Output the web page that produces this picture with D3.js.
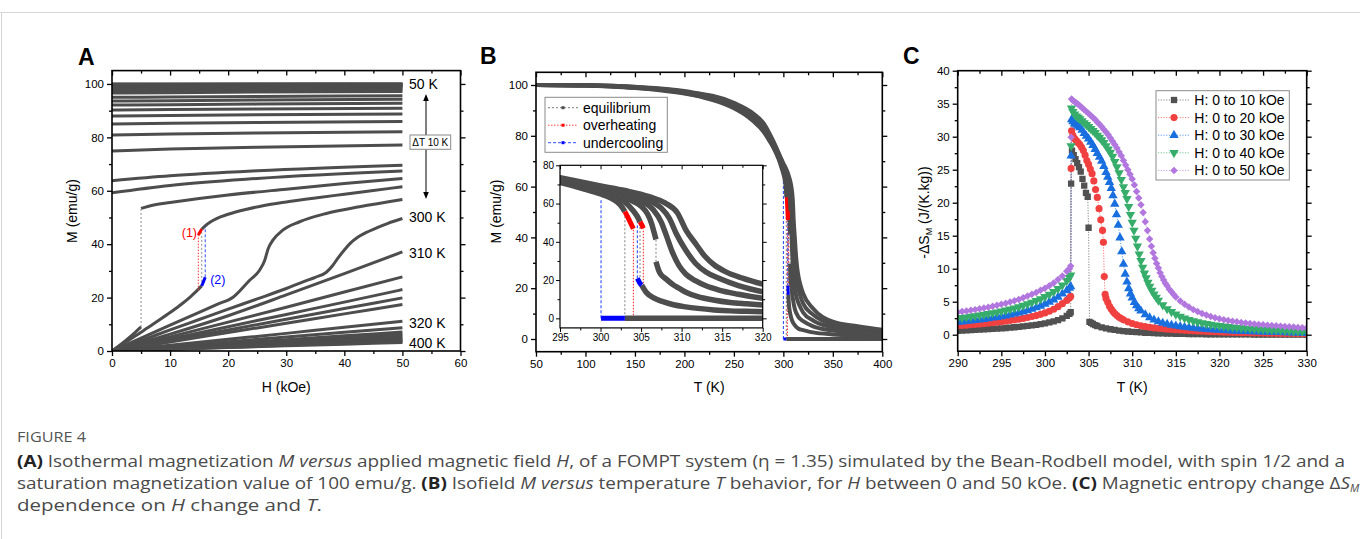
<!DOCTYPE html>
<html><head><meta charset="utf-8">
<script src="https://cdn.jsdelivr.net/npm/d3@7"></script>
<style>
html,body{margin:0;padding:0;background:#fff;}
svg{display:block;font-family:"Liberation Sans",Arial,Helvetica,sans-serif;}
</style></head><body>
<svg id="fig" width="1360" height="539"></svg>
<script>
// ---------------- Panel A data: isotherms M(H) ----------------
const hFlat = [0, 10, 25, 50];
const isoFlat = [
  [100.0, 100.0, 100.0, 100.0],
  [99.9, 99.92, 99.95, 100.0],
  [99.75, 99.78, 99.82, 99.9],
  [99.55, 99.6, 99.66, 99.75],
  [99.3, 99.35, 99.42, 99.55],
  [99.0, 99.06, 99.15, 99.3],
  [98.65, 98.72, 98.83, 99.0],
  [98.25, 98.33, 98.45, 98.65],
  [97.75, 97.85, 98.0, 98.2],
  [97.2, 97.32, 97.5, 97.75],
  [96.6, 96.75, 96.95, 97.2],
  [95.0, 95.12, 95.3, 95.6],
  [93.6, 93.75, 93.95, 94.25],
  [92.1, 92.25, 92.45, 92.75],
  [90.25, 90.4, 90.6, 90.9],
  [88.0, 88.2, 88.45, 88.75],
  [85.0, 85.25, 85.55, 85.9],
  [80.9, 81.25, 81.6, 82.1],
  [74.9, 75.6, 76.3, 77.1],
  [63.75, 65.6, 67.5, 69.6],
  [59.25, 62.0, 64.6, 67.4]
];
const hLin = [0, 10, 20, 30, 40, 50];
const isoLin = [
  [0, 6.3, 13.2, 21.0, 29.0, 37.1],
  [0, 5.3, 10.8, 16.4, 22.1, 27.75],
  [0, 4.5, 9.1, 13.7, 18.3, 23.0],
  [0, 3.9, 7.9, 11.9, 15.9, 19.9],
  [0, 3.4, 6.9, 10.4, 13.9, 17.4],
  [0, 2.2, 4.4, 6.6, 8.9, 11.1],
  [0, 1.75, 3.5, 5.25, 7.0, 8.75],
  [0, 1.42, 2.84, 4.26, 5.68, 7.1],
  [0, 1.25, 2.5, 3.75, 5.0, 6.25],
  [0, 1.12, 2.24, 3.36, 4.48, 5.6],
  [0, 1.0, 2.0, 3.0, 4.0, 5.0],
  [0, 0.9, 1.8, 2.7, 3.6, 4.5],
  [0, 0.8, 1.6, 2.4, 3.2, 4.0],
  [0, 0.72, 1.44, 2.16, 2.88, 3.6],
  [0, 0.64, 1.28, 1.92, 2.56, 3.2]
];
const iso5Low = [[0,0],[1,1.6],[2,3.3],[3,5.1],[4,7.0],[5,9.0]];
const iso5High = [[5,53.4],[7,54.6],[10,55.6],[15,57.1],[20,58.4],[30,60.6],[40,62.7],[50,64.6]];
const iso15Low = [[0,0],[2,2.8],[4,5.6],[6,8.5],[8,11.4],[10,14.4],[12,17.6],[13.5,20.3],[14.5,22.3],[15.45,24.4]];
const iso15High = [[15.45,45.6],[16,46.8],[17,48.4],[18,49.6],[20,51.2],[23,53],[26,54.4],[30,55.8],[35,57.3],[40,58.7],[45,60.1],[50,61.5]];
const iso15Over = [[14.86,43.4],[15.15,44.6],[15.45,45.6]];
const iso15Under = [[15.45,24.4],[15.75,26.0],[16.05,27.6]];
const isoS1 = [[0,0],[5,4.8],[10,9.7],[15,14.5],[18,17.4],[20.9,20.25],[23.7,26.5],[25.4,30.25],[26.3,34],[26.9,38.4],[27.7,41.5],[29.4,45.25],[32.3,48.4],[36.9,51.5],[42.6,54],[50,56.75]];
const isoS2 = [[0,0],[5,3.9],[10,7.9],[15,11.8],[20,15.7],[25,19.5],[30,23.4],[33,26.0],[35,27.6],[36.9,29.5],[38,32],[38.8,34.5],[40,37.8],[41,40.3],[42.3,42.6],[43.7,44.3],[45.5,46.0],[47.5,47.8],[50,49.6]];
// vertical jumps: [H, Mfrom, Mto, kind]
const jumpsA = [[5.0, 9.0, 53.4, 'eq'], [14.86, 22.8, 43.4, 'over'], [15.45, 24.4, 45.6, 'eq'], [16.05, 27.6, 46.6, 'under']];
const labelsA = [['50 K', 100], ['300 K', 50.2], ['310 K', 36.7], ['320 K', 10.6], ['400 K', 3.1]];

// ---------------- Panel B data: isofield M(T) ----------------
const mB0Up = [[50,100],[75,99.95],[100,99.8],[125,99.4],[150,98.8],[175,97.9],[200,96.6],[220,95.0],[240,92.6],[250,90.9],[260,88.6],[270,85.6],[280,81.6],[285,78.6],[290,75.3],[295,71.0],[298,67.6],[300,65.0],[301,63.4],[302,61.0],[302.5,59.0],[303,55.8]];
const mB0Low = [[303,0],[320,0],[350,0],[400,0]];
const mB10Up = [[50,100],[100,99.82],[150,98.9],[200,96.8],[250,91.3],[270,86.2],[280,82.2],[290,75.8],[295,71.5],[300,66.1],[302,63.3],[303,60.8],[304,56.4],[304.5,53.5],[304.87,50.5]];
const mB10Low = [[305.07,17.4],[305.7,13.3],[306.5,10.8],[307.7,8.7],[309,7.1],[310.5,6.0],[312,5.2],[314,4.4],[316,3.9],[318,3.7],[320,3.5],[330,2.6],[350,1.8],[375,1.3],[400,1.0]];
const mB20Up = [[50,100],[100,99.84],[150,99.0],[200,97.0],[250,91.7],[270,86.9],[280,82.9],[290,76.3],[295,72.0],[300,67.0],[302,64.6],[304,61.2],[305,58.6],[305.8,54.5],[306.3,49.5],[306.6,45.0],[306.84,41.2]];
const mB20Low = [[306.84,29.6],[307.3,23.8],[308.1,20.5],[309,17.4],[309.7,15.7],[310.6,13.5],[312,11.3],[313.9,9.6],[316,8.3],[318,7.6],[320,7.0],[330,5.0],[350,3.3],[375,2.4],[400,1.9]];
const mB30 = [[50,100],[100,99.86],[150,99.1],[200,97.2],[250,92.1],[270,87.5],[280,83.6],[290,76.8],[295,72.5],[300,67.8],[303,64.6],[305,61.4],[306.5,56.8],[307.5,50.2],[308.1,43.5],[308.9,34.2],[309.7,27.4],[310.5,23.2],[311.7,19.7],[313,17.0],[314.6,14.8],[317,12.6],[320,10.45],[330,7.3],[350,4.6],[375,3.4],[400,2.7]];
const mB40 = [[50,100],[100,99.88],[150,99.2],[200,97.4],[250,92.5],[270,88.1],[280,84.3],[290,77.3],[295,73.0],[300,68.6],[303,65.8],[305,63.4],[306.5,60.6],[307.5,57.6],[308.5,52.2],[309.3,44.6],[310.5,35.7],[311.7,28.8],[313,24.2],[314.6,20.9],[317,17.1],[320,13.9],[330,9.6],[350,5.7],[375,4.2],[400,3.3]];
const mB50 = [[50,100],[100,99.9],[150,99.3],[200,97.6],[250,93.0],[270,88.7],[280,85.0],[290,77.8],[295,73.5],[300,69.2],[303,66.8],[306,63.6],[308,60.2],[309.5,55.0],[310.5,46.4],[311.7,39.2],[312.9,32.3],[314,28.0],[315.4,24.4],[317.5,21.0],[320,17.9],[330,12.0],[350,6.8],[375,5.0],[400,3.6]];
const bOver0 = [[303,55.8],[303.3,53.4],[303.6,50.8],[303.85,48.6],[304.05,46.8]];
const bUnder0 = [[300.06,0],[301,0],[302,0],[303,0]];
const bOver10 = [[304.87,50.5],[305.0,49.5],[305.15,48.3],[305.28,47.0]];
const bUnder10 = [[304.54,20.9],[304.7,19.6],[304.87,18.3],[305.07,17.4]];
// vertical jumps: [T, Mfrom, Mto, kind]
const jumpsB = [[303.0,0,55.8,'eq'],[304.87,17.4,50.5,'eq'],[306.84,29.6,41.2,'eq'],[304.05,0,46.8,'over'],[305.28,18.3,47.0,'over'],[300.06,0,62.6,'under'],[304.54,20.9,51.0,'under']];
const legendB = ['equilibrium', 'overheating', 'undercooling'];

// ---------------- Panel C data: -ΔS_M(T) ----------------
const sC10 = [[290,0.6],[290.5,0.63],[291,0.66],[291.5,0.69],[292,0.72],[292.5,0.76],[293,0.8],[293.5,0.84],[294,0.88],[294.5,0.92],[295,0.97],[295.5,1.02],[296,1.07],[296.5,1.13],[297,1.19],[297.5,1.26],[298,1.33],[298.5,1.41],[299,1.5],[299.5,1.6],[300,1.72],[300.5,1.86],[301,2.02],[301.5,2.22],[302,2.48],[302.5,2.85],[302.8,3.15],[302.95,3.4],
  [303,22.9],[303.1,27.9],[303.3,27.2],[303.5,26.6],[303.7,26.0],[303.9,25.4],[304.1,24.7],[304.3,23.6],[304.5,22.6],[304.7,21.5],[304.9,20.9],[305,16.2],[305.1,1.95],[305.3,1.78],[305.5,1.62],[305.75,1.45],[306,1.32],[306.5,1.12],[307,0.96],[307.5,0.83],[308,0.72],[308.5,0.63],[309,0.55],[309.5,0.49],[310,0.43],[310.5,0.38],[311,0.34],[311.5,0.3],[312,0.27],[312.5,0.24],[313,0.22],[313.5,0.2],[314,0.18],[314.5,0.16],[315,0.14],[315.5,0.13],[316,0.12],[316.5,0.11],[317,0.1],[317.5,0.09],[318,0.08],[318.5,0.07],[319,0.07],[319.5,0.06],[320,0.06],[320.5,0.05],[321,0.05],[321.5,0.05],[322,0.04],[322.5,0.04],[323,0.04],[323.5,0.04],[324,0.03],[324.5,0.03],[325,0.03],[325.5,0.03],[326,0.03],[326.5,0.02],[327,0.02],[327.5,0.02],[328,0.02],[328.5,0.02],[329,0.02],[329.5,0.02],[330,0.02]];
const sC20 = [[290,1.35],[290.5,1.4],[291,1.45],[291.5,1.5],[292,1.55],[292.5,1.61],[293,1.68],[293.5,1.75],[294,1.82],[294.5,1.9],[295,1.98],[295.5,2.06],[296,2.15],[296.5,2.25],[297,2.35],[297.5,2.47],[298,2.6],[298.5,2.75],[299,2.9],[299.5,3.08],[300,3.3],[300.5,3.55],[301,3.85],[301.5,4.25],[302,4.7],[302.5,5.2],[302.8,5.55],[302.95,5.8],
  [303,25.2],[303.05,30.9],[303.2,30.2],[303.4,29.7],[303.6,29.4],[303.8,29.1],[304,28.8],[304.2,28.4],[304.4,27.9],[304.6,27.2],[304.8,26.4],[305,25.8],[305.2,25.1],[305.4,24.4],[305.6,23.3],[305.8,22.0],[306,20.8],[306.2,19.1],[306.4,17.4],[306.6,15.8],[306.7,14.0],[306.8,8.8],[306.9,6.1],[307,5.5],[307.2,4.9],[307.4,4.3],[307.6,3.9],[307.8,3.5],[308,3.2],[308.25,2.9],[308.5,2.65],[308.75,2.45],[309,2.25],[309.5,1.95],[310,1.7],[310.5,1.5],[311,1.35],[311.5,1.22],[312,1.12],[312.5,1.03],[313,0.96],[313.5,0.9],[314,0.84],[314.5,0.79],[315,0.74],[315.5,0.7],[316,0.66],[316.5,0.62],[317,0.58],[317.5,0.55],[318,0.52],[318.5,0.49],[319,0.46],[319.5,0.44],[320,0.41],[320.5,0.39],[321,0.37],[321.5,0.35],[322,0.33],[322.5,0.31],[323,0.3],[323.5,0.28],[324,0.27],[324.5,0.25],[325,0.24],[325.5,0.23],[326,0.22],[326.5,0.21],[327,0.2],[327.5,0.19],[328,0.18],[328.5,0.17],[329,0.16],[329.5,0.15],[330,0.14]];
const sC30 = [[290,1.9],[290.5,1.97],[291,2.05],[291.5,2.12],[292,2.2],[292.5,2.27],[293,2.35],[293.5,2.45],[294,2.55],[294.5,2.65],[295,2.75],[295.5,2.87],[296,3.0],[296.5,3.15],[297,3.3],[297.5,3.47],[298,3.65],[298.5,3.87],[299,4.1],[299.5,4.36],[300,4.65],[300.5,4.95],[301,5.3],[301.5,5.72],[302,6.2],[302.5,6.7],[302.8,7.05],[302.95,7.3],
  [303,27.1],[303.05,32.6],[303.2,32.3],[303.4,32.0],[303.6,31.8],[303.8,31.6],[304,31.4],[304.25,31.0],[304.5,30.5],[304.75,30.1],[305,29.7],[305.25,29.2],[305.5,28.7],[305.75,28.1],[306,27.5],[306.25,26.9],[306.5,26.3],[306.75,25.5],[307,24.6],[307.2,23.9],[307.4,23.1],[307.6,22.2],[307.8,21.1],[308,19.8],[308.2,18.2],[308.4,16.6],[308.6,14.7],[308.8,12.6],[309,10.7],[309.2,9.2],[309.4,8.0],[309.6,7.0],[309.8,6.2],[310,5.6],[310.25,4.9],[310.5,4.4],[310.75,3.98],[311,3.62],[311.5,3.05],[312,2.6],[312.5,2.25],[313,1.98],[313.5,1.76],[314,1.6],[314.5,1.46],[315,1.34],[315.5,1.24],[316,1.15],[316.5,1.07],[317,1.0],[317.5,0.94],[318,0.88],[318.5,0.83],[319,0.78],[319.5,0.74],[320,0.7],[320.5,0.66],[321,0.63],[321.5,0.6],[322,0.57],[322.5,0.54],[323,0.52],[323.5,0.49],[324,0.47],[324.5,0.45],[325,0.43],[325.5,0.41],[326,0.39],[326.5,0.37],[327,0.35],[327.5,0.33],[328,0.31],[328.5,0.29],[329,0.27],[329.5,0.26],[330,0.24]];
const sC40 = [[290,2.5],[290.5,2.57],[291,2.65],[291.5,2.75],[292,2.85],[292.5,2.95],[293,3.05],[293.5,3.17],[294,3.3],[294.5,3.42],[295,3.55],[295.5,3.7],[296,3.85],[296.5,4.02],[297,4.2],[297.5,4.42],[298,4.65],[298.5,4.9],[299,5.15],[299.5,5.43],[300,5.75],[300.5,6.1],[301,6.5],[301.5,6.97],[302,7.5],[302.5,8.2],[302.8,8.65],[302.95,9.0],
  [303,28.6],[303.05,34.3],[303.2,33.8],[303.4,33.4],[303.6,33.1],[303.8,32.9],[304,32.7],[304.25,32.4],[304.5,32.1],[304.75,31.8],[305,31.5],[305.25,31.2],[305.5,30.9],[305.75,30.6],[306,30.2],[306.25,29.9],[306.5,29.5],[306.75,29.1],[307,28.6],[307.25,28.1],[307.5,27.6],[307.75,27.0],[308,26.2],[308.25,25.4],[308.5,24.5],[308.75,23.5],[309,22.4],[309.2,21.5],[309.4,20.6],[309.6,19.4],[309.8,18.2],[310,17.0],[310.2,15.8],[310.4,14.6],[310.6,13.4],[310.8,12.2],[311,11.2],[311.2,10.2],[311.4,9.3],[311.6,8.6],[311.8,7.9],[312,7.3],[312.25,6.7],[312.5,6.15],[312.75,5.65],[313,5.2],[313.5,4.5],[314,3.9],[314.5,3.48],[315,3.1],[315.5,2.78],[316,2.5],[316.5,2.28],[317,2.08],[317.5,1.92],[318,1.78],[318.5,1.66],[319,1.55],[319.5,1.45],[320,1.36],[320.5,1.28],[321,1.2],[321.5,1.13],[322,1.07],[322.5,1.01],[323,0.96],[323.5,0.91],[324,0.87],[324.5,0.83],[325,0.79],[325.5,0.75],[326,0.71],[326.5,0.68],[327,0.65],[327.5,0.62],[328,0.59],[328.5,0.56],[329,0.53],[329.5,0.5],[330,0.47]];
const sC50 = [[290,3.4],[290.5,3.5],[291,3.6],[291.5,3.7],[292,3.8],[292.5,3.92],[293,4.05],[293.5,4.17],[294,4.3],[294.5,4.45],[295,4.6],[295.5,4.77],[296,4.95],[296.5,5.15],[297,5.35],[297.5,5.6],[298,5.85],[298.5,6.12],[299,6.4],[299.5,6.72],[300,7.05],[300.5,7.43],[301,7.85],[301.5,8.35],[302,8.9],[302.5,9.6],[302.8,10.0],[302.95,10.4],
  [303,29.9],[303.05,35.7],[303.2,35.5],[303.4,35.3],[303.6,35.1],[303.8,34.9],[304,34.7],[304.25,34.4],[304.5,34.1],[304.75,33.8],[305,33.5],[305.25,33.2],[305.5,32.9],[305.75,32.6],[306,32.2],[306.25,31.9],[306.5,31.5],[306.75,31.1],[307,30.7],[307.25,30.3],[307.5,29.8],[307.75,29.3],[308,28.8],[308.25,28.3],[308.5,27.7],[308.75,27.1],[309,26.4],[309.25,25.7],[309.5,25.0],[309.75,24.3],[310,23.6],[310.25,22.7],[310.5,21.7],[310.75,20.7],[311,19.7],[311.25,18.5],[311.5,17.1],[311.75,15.8],[312,14.5],[312.2,13.4],[312.4,12.4],[312.6,11.6],[312.8,10.8],[313,10.1],[313.2,9.4],[313.4,8.8],[313.6,8.3],[313.8,7.8],[314,7.4],[314.25,6.9],[314.5,6.5],[314.75,6.1],[315,5.7],[315.5,5.1],[316,4.6],[316.5,4.2],[317,3.8],[317.5,3.5],[318,3.2],[318.5,2.97],[319,2.75],[319.5,2.56],[320,2.4],[320.5,2.27],[321,2.15],[321.5,2.05],[322,1.95],[322.5,1.86],[323,1.78],[323.5,1.7],[324,1.63],[324.5,1.56],[325,1.5],[325.5,1.45],[326,1.4],[326.5,1.35],[327,1.3],[327.5,1.25],[328,1.2],[328.5,1.15],[329,1.1],[329.5,1.05],[330,1.0]];
const legendC = ['H: 0 to 10 kOe', 'H: 0 to 20 kOe', 'H: 0 to 30 kOe', 'H: 0 to 40 kOe', 'H: 0 to 50 kOe'];
const colorsC = ['#515151', '#F14040', '#1A6FDF', '#37AD6B', '#B177DE'];

// ---------------- helpers ----------------
const svg = d3.select('#fig');
const FONT = '"Liberation Sans", Arial, Helvetica, sans-serif';

function frame(g, x, y, o) {
  const [L, R] = x.range(), [B, T] = y.range();
  const ML = o.ml || 5, mn = o.mn || 3;
  const fmt = o.fmt || d3.format('d');
  function ax(gen, tr, vals, len, lab) {
    const a = g.append('g').attr('transform', tr)
      .call(gen.tickValues(vals).tickSizeInner(len).tickSizeOuter(0).tickPadding(o.pad || 3).tickFormat(lab ? fmt : ''));
    a.select('.domain').remove();
    a.selectAll('line').attr('stroke', '#000').attr('stroke-width', o.tw || 1.3);
    a.attr('font-size', o.fs || 11.5).attr('font-family', FONT);
    a.selectAll('text').attr('fill', '#000');
    return a;
  }
  ax(d3.axisBottom(x), `translate(0,${B})`, o.xMaj, ML, true);
  ax(d3.axisBottom(x), `translate(0,${B})`, o.xMin, mn, false);
  ax(d3.axisTop(x), `translate(0,${T})`, o.xMaj, -ML, false);
  ax(d3.axisTop(x), `translate(0,${T})`, o.xMin, -mn, false);
  ax(d3.axisLeft(y), `translate(${L},0)`, o.yMaj, ML, true);
  ax(d3.axisLeft(y), `translate(${L},0)`, o.yMin, mn, false);
  ax(d3.axisRight(y), `translate(${R},0)`, o.yMaj, ML, false);
  ax(d3.axisRight(y), `translate(${R},0)`, o.yMin, mn, false);
  g.append('rect').attr('x', L).attr('y', T).attr('width', R - L).attr('height', B - T)
    .attr('fill', 'none').attr('stroke', '#000').attr('stroke-width', o.fw || 1.6);
}
function clip(id, x, y) {
  const [L, R] = x.range(), [B, T] = y.range();
  svg.append('clipPath').attr('id', id).append('rect').attr('x', L).attr('y', T).attr('width', R - L).attr('height', B - T);
  return `url(#${id})`;
}
const dashFor = {eq: '2,2', over: '1.5,1.5', under: '3,2'};
const colFor = {eq: '#8c8c8c', over: '#ff3030', under: '#3050ff'};

// borders
svg.append('line').attr('x1', 0).attr('x2', 1360).attr('y1', 12.5).attr('y2', 12.5).attr('stroke', '#d6d6d6');
svg.append('line').attr('x1', 1.5).attr('x2', 1.5).attr('y1', 12.5).attr('y2', 539).attr('stroke', '#d6d6d6');

// ================= Panel A =================
{
  const xA = d3.scaleLinear().domain([0, 60]).range([112, 460.5]);
  const yA = d3.scaleLinear().domain([0, 105]).range([351, 70.6]);
  const g = svg.append('g');
  const plot = g.append('g').attr('clip-path', clip('clipA', xA, yA));
  const line = d3.line().x(d => xA(d[0])).y(d => yA(d[1])).curve(d3.curveMonotoneX);
  const curves = [];
  isoFlat.forEach(v => curves.push(hFlat.map((h, i) => [h, v[i]])));
  isoLin.forEach(v => curves.push(hLin.map((h, i) => [h, v[i]])));
  [iso5Low, iso5High, iso15Low, iso15High, isoS1, isoS2].forEach(c => curves.push(c));
  plot.selectAll('path.iso').data(curves).join('path').attr('class', 'iso')
    .attr('d', line).attr('fill', 'none').attr('stroke', '#4d4d4d').attr('stroke-width', 3);
  plot.selectAll('line.jmp').data(jumpsA).join('line').attr('class', 'jmp')
    .attr('x1', d => xA(d[0])).attr('x2', d => xA(d[0])).attr('y1', d => yA(d[1])).attr('y2', d => yA(d[2]))
    .attr('stroke', d => colFor[d[3]]).attr('stroke-width', 1).attr('stroke-dasharray', d => dashFor[d[3]]);
  plot.append('path').attr('d', line(iso15Over)).attr('fill', 'none').attr('stroke', '#ff0000').attr('stroke-width', 3);
  plot.append('path').attr('d', line(iso15Under)).attr('fill', 'none').attr('stroke', '#0000ff').attr('stroke-width', 3);
  frame(g, xA, yA, {xMaj: d3.range(0, 61, 10), xMin: d3.range(5, 60, 10), yMaj: d3.range(0, 101, 20), yMin: d3.range(10, 101, 20)});
  // labels
  g.selectAll('text.tl').data(labelsA).join('text').attr('class', 'tl')
    .attr('x', 409).attr('y', d => yA(d[1]) + 5).attr('font-size', 14).attr('fill', '#000').text(d => d[0]);
  g.append('text').attr('x', 197).attr('y', yA(44.2) + 4.5).attr('font-size', 12.5).attr('fill', '#ff0000').attr('text-anchor', 'end').text('(1)');
  g.append('text').attr('x', xA(16.9)).attr('y', yA(26.8) + 4.5).attr('font-size', 12.5).attr('fill', '#0000ff').text('(2)');
  // ΔT arrow
  const ax = 426;
  g.append('line').attr('x1', ax).attr('x2', ax).attr('y1', 100).attr('y2', 135).attr('stroke', '#000').attr('stroke-width', 1);
  g.append('line').attr('x1', ax).attr('x2', ax).attr('y1', 149.3).attr('y2', 193).attr('stroke', '#000').attr('stroke-width', 1);
  g.append('path').attr('d', `M${ax},94 L${ax - 2.8},101 L${ax + 2.8},101 Z`).attr('fill', '#000');
  g.append('path').attr('d', `M${ax},199 L${ax - 2.8},192 L${ax + 2.8},192 Z`).attr('fill', '#000');
  g.append('rect').attr('x', 410).attr('y', 135).attr('width', 40.7).attr('height', 14.3).attr('fill', '#fff').attr('stroke', '#8a8a8a').attr('stroke-width', 1);
  g.append('text').attr('x', 430.3).attr('y', 145.8).attr('text-anchor', 'middle').attr('font-size', 10).attr('fill', '#000').text('ΔT 10 K');
  g.append('text').attr('x', xA(30)).attr('y', 392).attr('text-anchor', 'middle').attr('font-size', 14).text('H (kOe)');
  g.append('text').attr('transform', `translate(77,211) rotate(-90)`).attr('text-anchor', 'middle').attr('font-size', 14).text('M (emu/g)');
  g.append('text').attr('x', 78).attr('y', 65).attr('font-size', 23).attr('font-weight', 'bold').text('A');
}

// ================= Panel B =================
{
  const xB = d3.scaleLinear().domain([50, 400]).range([536, 882.3]);
  const yB = d3.scaleLinear().domain([-5, 105]).range([351.7, 72.3]);
  const xI = d3.scaleLinear().domain([295, 320]).range([560, 762.7]);
  const yI = d3.scaleLinear().domain([-5, 80]).range([327.9, 165.3]);
  const g = svg.append('g');
  const curves = [mB0Up, mB0Low, mB10Up, mB10Low, mB20Up, mB20Low, mB30, mB40, mB50];
  function drawSet(parent, x, y, sw, swO) {
    const line = d3.line().x(d => x(d[0])).y(d => y(d[1])).curve(d3.curveMonotoneX);
    parent.selectAll('line.jmp').data(jumpsB).join('line').attr('class', 'jmp')
      .attr('x1', d => x(d[0])).attr('x2', d => x(d[0])).attr('y1', d => y(d[1])).attr('y2', d => y(d[2]))
      .attr('stroke', d => colFor[d[3]]).attr('stroke-width', 1.1).attr('stroke-dasharray', d => dashFor[d[3]]);
    parent.selectAll('path.c').data(curves).join('path').attr('class', 'c')
      .attr('d', line).attr('fill', 'none').attr('stroke', '#4d4d4d').attr('stroke-width', sw);
    parent.append('path').attr('d', line(bOver0)).attr('fill', 'none').attr('stroke', '#ff0000').attr('stroke-width', swO);
    parent.append('path').attr('d', line(bOver10)).attr('fill', 'none').attr('stroke', '#ff0000').attr('stroke-width', swO);
    parent.append('path').attr('d', line(bUnder0)).attr('fill', 'none').attr('stroke', '#0000ff').attr('stroke-width', swO);
    parent.append('path').attr('d', line(bUnder10)).attr('fill', 'none').attr('stroke', '#0000ff').attr('stroke-width', swO);
  }
  const main = g.append('g').attr('clip-path', clip('clipB', xB, yB));
  drawSet(main, xB, yB, 4, 3);
  frame(g, xB, yB, {xMaj: d3.range(50, 401, 50), xMin: d3.range(75, 400, 50), yMaj: d3.range(0, 101, 20), yMin: d3.range(10, 101, 20)});
  // inset
  g.append('rect').attr('x', 560).attr('y', 165.3).attr('width', 202.7).attr('height', 162.6).attr('fill', '#fff');
  const ins = g.append('g').attr('clip-path', clip('clipI', xI, yI));
  drawSet(ins, xI, yI, 5.5, 5);
  frame(g, xI, yI, {xMaj: d3.range(295, 321, 5), xMin: d3.range(297.5, 320, 5), yMaj: d3.range(0, 81, 20), yMin: d3.range(10, 81, 20), fs: 10, ml: 4, mn: 2.5, tw: 1, fw: 1.2, pad: 2});
  // legend
  const lg = g.append('g');
  lg.append('rect').attr('x', 545).attr('y', 97.3).attr('width', 122.3).attr('height', 55).attr('fill', '#fff').attr('stroke', '#8a8a8a').attr('stroke-width', 1);
  const lc = ['#7a7a7a', '#ff4040', '#3050ff'], mc = ['#4d4d4d', '#ff0000', '#0000ff'], ld = ['2,2', '1.5,1.5', '3,2'];
  legendB.forEach((t, i) => {
    const yy = 107.7 + i * 17.5;
    lg.append('line').attr('x1', 548).attr('x2', 578).attr('y1', yy).attr('y2', yy).attr('stroke', lc[i]).attr('stroke-width', 1).attr('stroke-dasharray', ld[i]);
    lg.append('rect').attr('x', 561.5).attr('y', yy - 1.5).attr('width', 3).attr('height', 3).attr('fill', mc[i]);
    lg.append('text').attr('x', 583).attr('y', yy + 5).attr('font-size', 14).attr('fill', '#000').text(t);
  });
  g.append('text').attr('x', xB(225)).attr('y', 392).attr('text-anchor', 'middle').attr('font-size', 14).text('T (K)');
  g.append('text').attr('transform', `translate(501,211.5) rotate(-90)`).attr('text-anchor', 'middle').attr('font-size', 14).text('M (emu/g)');
  g.append('text').attr('x', 480).attr('y', 63.5).attr('font-size', 23).attr('font-weight', 'bold').text('B');
}

// ================= Panel C =================
{
  const xC = d3.scaleLinear().domain([290, 330]).range([957.7, 1306.7]);
  const yC = d3.scaleLinear().domain([-2.5, 40]).range([351.2, 70.7]);
  const g = svg.append('g');
  const plot = g.append('g').attr('clip-path', clip('clipC', xC, yC));
  const series = [sC10, sC20, sC30, sC40, sC50];
  const syms = [
    {t: d3.symbolSquare, s: 40, r: 0},
    {t: d3.symbolCircle, s: 40, r: 0},
    {t: d3.symbolTriangle, s: 38, r: 0},
    {t: d3.symbolTriangle, s: 38, r: 180},
    {t: d3.symbolSquare, s: 28, r: 45}
  ];
  const line = d3.line().x(d => xC(d[0])).y(d => yC(d[1]));
  series.forEach((s, i) => {
    plot.append('path').attr('d', line(s)).attr('fill', 'none').attr('stroke', colorsC[i]).attr('stroke-opacity', 0.7)
      .attr('stroke-width', 1).attr('stroke-dasharray', '1.2,1.5');
  });
  series.forEach((s, i) => {
    const sym = d3.symbol().type(syms[i].t).size(syms[i].s)();
    plot.append('g').selectAll('path').data(s).join('path').attr('d', sym)
      .attr('transform', d => `translate(${xC(d[0])},${yC(d[1])}) rotate(${syms[i].r})`)
      .attr('fill', colorsC[i]);
  });
  frame(g, xC, yC, {xMaj: d3.range(290, 331, 5), xMin: d3.range(292.5, 330, 5), yMaj: d3.range(0, 41, 5), yMin: d3.range(2.5, 40, 5)});
  // legend
  const lg = g.append('g');
  lg.append('rect').attr('x', 1156).attr('y', 90.7).attr('width', 133.3).attr('height', 89.3).attr('fill', '#fff').attr('stroke', '#8a8a8a').attr('stroke-width', 1);
  legendC.forEach((t, i) => {
    const yy = 100 + i * 17.6;
    lg.append('line').attr('x1', 1158).attr('x2', 1189).attr('y1', yy).attr('y2', yy).attr('stroke', colorsC[i]).attr('stroke-opacity', 0.7).attr('stroke-width', 1).attr('stroke-dasharray', '1.2,1.5');
    lg.append('path').attr('d', d3.symbol().type(syms[i].t).size(syms[i].s)()).attr('transform', `translate(1174,${yy}) rotate(${syms[i].r})`).attr('fill', colorsC[i]);
    lg.append('text').attr('x', 1194.3).attr('y', yy + 5).attr('font-size', 14).attr('fill', '#000').text(t);
  });
  g.append('text').attr('x', xC(310)).attr('y', 392).attr('text-anchor', 'middle').attr('font-size', 14).text('T (K)');
  const yt = g.append('text').attr('transform', `translate(929,212.5) rotate(-90)`).attr('text-anchor', 'middle').attr('font-size', 14);
  yt.append('tspan').text('-ΔS');
  yt.append('tspan').attr('font-size', 9).attr('dy', 3).text('M');
  yt.append('tspan').attr('dy', -3).text(' (J/(K.kg))');
  g.append('text').attr('x', 903).attr('y', 63.5).attr('font-size', 23).attr('font-weight', 'bold').text('C');
}

// ================= Caption =================
{
  const cap = svg.append('g').attr('font-family', '"Open Sans", "Noto Sans", sans-serif').attr('fill', '#4a4a4a');
  cap.append('text').attr('x', 17).attr('y', 442).attr('font-size', 15).attr('textLength', 69).attr('lengthAdjust', 'spacingAndGlyphs').attr('fill', '#555').text('FIGURE 4');
  const lines = [
    {y: 466.5, w: 1328, parts: [['(A)', 'b'], [' Isothermal magnetization '], ['M versus', 'i'], [' applied magnetic field '], ['H', 'i'], [', of a FOMPT system (η = 1.35) simulated by the Bean-Rodbell model, with spin 1/2 and a']]},
    {y: 488.5, w: 1333, parts: [['saturation magnetization value of 100 emu/g. '], ['(B)', 'b'], [' Isofield '], ['M versus', 'i'], [' temperature '], ['T', 'i'], [' behavior, for '], ['H', 'i'], [' between 0 and 50 kOe. '], ['(C)', 'b'], [' Magnetic entropy change Δ'], ['S', 'i']]},
    {y: 510.5, w: 305, parts: [['dependence on '], ['H', 'i'], [' change and '], ['T', 'i'], ['.']]}
  ];
  lines.forEach(l => {
    const t = cap.append('text').attr('x', 17).attr('y', l.y).attr('font-size', 16).attr('textLength', l.w).attr('lengthAdjust', 'spacingAndGlyphs');
    l.parts.forEach(p => {
      const ts = t.append('tspan').text(p[0]);
      if (p[1] === 'b') ts.attr('font-weight', 'bold').attr('fill', '#222');
      if (p[1] === 'i') ts.attr('font-style', 'italic');
    });
  });
  cap.append('text').attr('x', 1350).attr('y', 492).attr('font-size', 11).attr('font-style', 'italic').text('M');
}
</script></body></html>
